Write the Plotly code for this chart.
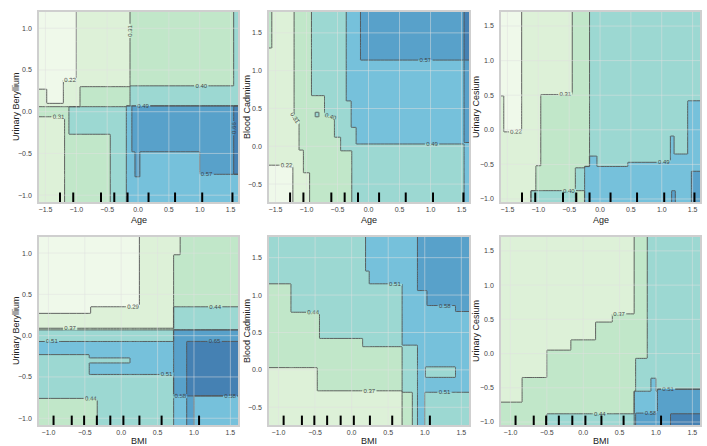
import plotly.graph_objects as go

# ---------------- data ----------------
AGE_RANGE = [-1.605, 1.62]
BMI_RANGE = [-1.13, 1.605]
BERYLLIUM_RANGE = [-1.082, 1.195]
CADMIUM_RANGE = [-0.737, 1.776]
CESIUM_RANGE = [-1.044, 1.703]

AGE_DECILES = [-1.265, -1.05, -0.60, -0.385, -0.17, 0.17, 0.60, 1.04, 1.53]
BMI_DECILES = [-0.93, -0.68, -0.51, -0.335, -0.15, 0.03, 0.25, 0.555, 1.07]

TOP_LEVELS = dict(start=0.224, end=0.6615, size=0.0875)
BOTTOM_LEVELS = dict(start=0.294, end=0.6515, size=0.0715)

# partial dependence regions: (x0, x1, y0, y1, value); later entries override earlier
AGE_BERYLLIUM_BASE = 0.36
AGE_BERYLLIUM = [
    (-9, -0.13, 0.30, 9, 0.27), (-9, -0.94, 0.06, 0.30, 0.27),
    (-9, -1.0, 0.38, 9, 0.18), (-1.48, -1.21, 0.10, 0.38, 0.18), (-9, -1.48, 0.27, 0.38, 0.18),
    (1.55, 9, 0.31, 9, 0.44), (-0.13, 9, 0.07, 0.31, 0.44),
    (-9, -1.19, -9, -0.06, 0.27),
    (-1.12, -0.45, -0.27, 0.06, 0.44), (-0.45, -0.19, -9, 0.06, 0.44),
    (-0.19, 9, -9, 0.07, 0.53),
    (-0.10, 9, -0.48, 0.07, 0.62), (1.0, 9, -0.75, -0.48, 0.62), (-0.05, 0.03, -0.78, -0.48, 0.62),
    (1.55, 9, -0.75, 0.07, 0.70),
]

AGE_CADMIUM_BASE = 0.44
AGE_CADMIUM = [
    (-9, -0.92, -9, 9, 0.36), (-0.92, -0.71, -9, 0.67, 0.36), (-0.71, -0.55, -9, 0.40, 0.36),
    (-0.55, -0.45, -9, 0.12, 0.36), (-0.45, -0.27, -9, -0.06, 0.36),
    (-9, -1.2, -9, 9, 0.27), (-1.2, -1.12, -9, 0.35, 0.27), (-1.12, -1.05, -9, -0.05, 0.27),
    (-1.05, -0.95, -9, -0.35, 0.27),
    (-9, -1.56, 1.30, 9, 0.36),
    (-9, -1.22, -9, -0.25, 0.18),
    (-0.86, -0.80, 0.39, 0.45, 0.44),
    (-0.36, 1.54, 0.6, 9, 0.53), (-0.28, 1.54, 0.25, 0.6, 0.53), (-0.2, 1.54, 0.03, 0.25, 0.53),
    (-0.13, 1.54, 1.14, 9, 0.62),
    (1.54, 9, 0.05, 1.14, 0.62), (1.54, 9, 1.14, 9, 0.70), (1.54, 9, -9, 0.05, 0.53),
]

AGE_CESIUM_BASE = 0.44
AGE_CESIUM = [
    (-9, -0.17, -9, 9, 0.36),
    (-9, -0.45, 0.51, 9, 0.27), (-9, -0.96, -0.52, 0.51, 0.27), (-9, -1.04, -0.88, -0.52, 0.27),
    (-9, -1.12, -9, -0.88, 0.27),
    (-1.56, -1.27, -0.03, 9, 0.18), (-9, -1.56, 0.49, 9, 0.18),
    (-1.12, -0.40, -9, -0.88, 0.44), (-0.40, -0.17, -0.88, -0.55, 0.44),
    (-0.25, 1.42, -9, -0.53, 0.53), (0.45, 1.14, -0.53, -0.47, 0.53), (1.2, 1.42, -0.53, -0.35, 0.53),
    (-0.17, -0.05, -0.53, -0.38, 0.53), (1.14, 1.2, -0.53, -0.09, 0.53),
    (1.42, 9, -9, 0.42, 0.53),
    (1.48, 9, -9, -0.6, 0.62), (1.16, 1.22, -9, -0.88, 0.62),
]

BMI_BERYLLIUM_BASE = 0.47
BMI_BERYLLIUM = [
    (-9, 0.72, 0.09, 9, 0.33),
    (-9, -0.42, 0.27, 9, 0.26), (-0.42, 0.25, 0.35, 9, 0.26),
    (0.72, 9, 0.35, 9, 0.40), (0.72, 0.81, 0.98, 9, 0.33),
    (-9, 0.72, 0.07, 0.09, 0.40),
    (-9, 0.72, -0.23, -0.07, 0.54), (-0.44, 0.72, -0.47, -0.23, 0.54),
    (-0.44, 0.12, -0.33, -0.27, 0.47),
    (0.72, 9, -0.73, 0.07, 0.62), (0.9, 9, -0.73, -0.07, 0.69),
    (0.72, 9, -9, -0.73, 0.54), (0.9, 1.0, -9, -0.73, 0.62),
    (-9, -0.33, -9, -0.76, 0.40),
]

BMI_CADMIUM_BASE = 0.47
BMI_CADMIUM = [
    (-9, -0.83, -9, 1.15, 0.40), (-0.83, -0.44, -9, 0.77, 0.40), (-0.44, 0.15, -9, 0.42, 0.40),
    (0.15, 0.69, -9, 0.31, 0.40),
    (-9, -0.47, -9, 0.03, 0.33), (-0.47, 0.69, -9, -0.28, 0.33),
    (0.69, 0.83, -9, -0.30, 0.40),
    (0.19, 0.9, 1.32, 9, 0.54), (0.24, 0.9, 1.15, 1.32, 0.54), (0.69, 0.9, 0.33, 1.15, 0.54),
    (0.9, 9, -0.30, 1.06, 0.54), (0.9, 1.0, -9, -0.30, 0.54),
    (1.01, 1.42, -0.10, 0.04, 0.47),
    (0.9, 9, 1.06, 9, 0.62), (1.03, 9, 0.86, 1.06, 0.62), (1.42, 9, 0.78, 0.86, 0.62),
]

BMI_CESIUM_BASE = 0.40
BMI_CESIUM = [
    (-9, 0.70, 0.58, 9, 0.33), (-9, 0.40, 0.46, 0.58, 0.33), (-9, 0.17, 0.20, 0.46, 0.33),
    (-9, -0.17, 0.05, 0.20, 0.33), (-9, -0.50, -0.35, 0.05, 0.33), (-9, -0.84, -0.71, -0.35, 0.33),
    (0.88, 9, -0.55, 9, 0.47), (0.72, 0.88, -0.55, -0.07, 0.47), (-0.5, 0.7, -9, -0.88, 0.47),
    (0.70, 9, -9, -0.55, 0.54), (0.93, 1.0, -0.55, -0.36, 0.54),
    (1.02, 9, -0.88, -0.52, 0.62), (0.72, 1.2, -9, -0.87, 0.62),
    (1.2, 9, -9, -0.88, 0.69),
]

GNBU_BANDS = ["rgb(234,247,228)", "rgb(210,237,203)", "rgb(173,223,183)", "rgb(123,204,196)",
              "rgb(73,173,208)", "rgb(33,130,185)", "rgb(8,87,154)"]

PANELS = [
    ("Age", "Urinary Beryllium", AGE_RANGE, BERYLLIUM_RANGE, AGE_BERYLLIUM_BASE, AGE_BERYLLIUM, AGE_DECILES, TOP_LEVELS),
    ("Age", "Blood Cadmium", AGE_RANGE, CADMIUM_RANGE, AGE_CADMIUM_BASE, AGE_CADMIUM, AGE_DECILES, TOP_LEVELS),
    ("Age", "Urinary Cesium", AGE_RANGE, CESIUM_RANGE, AGE_CESIUM_BASE, AGE_CESIUM, AGE_DECILES, TOP_LEVELS),
    ("BMI", "Urinary Beryllium", BMI_RANGE, BERYLLIUM_RANGE, BMI_BERYLLIUM_BASE, BMI_BERYLLIUM, BMI_DECILES, BOTTOM_LEVELS),
    ("BMI", "Blood Cadmium", BMI_RANGE, CADMIUM_RANGE, BMI_CADMIUM_BASE, BMI_CADMIUM, BMI_DECILES, BOTTOM_LEVELS),
    ("BMI", "Urinary Cesium", BMI_RANGE, CESIUM_RANGE, BMI_CESIUM_BASE, BMI_CESIUM, BMI_DECILES, BOTTOM_LEVELS),
]

# ---------------- layout (pixels of a 707x446 canvas) ----------------
W, H = 707, 446
X_DOMAINS = [(39, 238), (269, 469), (501, 700)]
Y_DOMAINS = [(12, 202), (237, 425)]
YTITLE_X = [16, 247, 476]
XTITLE_Y = [220, 440.5]
GRID_COLOR = "rgba(226,226,226,0.5)"


def nodes(lo, hi, edges, d=0.004):
    pts = {lo, hi}
    for e in edges:
        if lo + 2 * d < e < hi - 2 * d:
            pts.add(e - d)
            pts.add(e + d)
    return sorted(pts)


def build_grid(xr, yr, base, rects):
    xs = nodes(xr[0], xr[1], [r[0] for r in rects] + [r[1] for r in rects])
    ys = nodes(yr[0], yr[1], [r[2] for r in rects] + [r[3] for r in rects])
    z = []
    for y in ys:
        row = []
        for x in xs:
            v = base
            for x0, x1, y0, y1, val in rects:
                if x0 <= x <= x1 and y0 <= y <= y1:
                    v = val
            row.append(v)
        z.append(row)
    return xs, ys, z


def ticks_for(r):
    vals = []
    t = -1.5
    while t <= 1.5 + 1e-9:
        if r[0] <= t <= r[1]:
            vals.append(round(t, 1))
        t += 0.5
    return vals


colorscale = [[j / 6, c] for j, c in enumerate(GNBU_BANDS)]
FONT = "Liberation Sans, Arial, sans-serif"
TITLE_FONT = dict(size=9, color="#222222", family=FONT)

fig = go.Figure()
layout = dict(width=W, height=H, margin=dict(l=0, r=0, t=0, b=0),
              paper_bgcolor="white", plot_bgcolor="white", showlegend=False,
              font=dict(family=FONT))
annotations = []

for i, (xname, yname, xr, yr, base, rects, deciles, lv) in enumerate(PANELS):
    n = i + 1
    row, col = divmod(i, 3)
    xs, ys, z = build_grid(xr, yr, base, rects)
    xa = "x" if n == 1 else f"x{n}"
    ya = "y" if n == 1 else f"y{n}"
    fig.add_trace(go.Contour(
        x=xs, y=ys, z=z, xaxis=xa, yaxis=ya,
        colorscale=colorscale, showscale=False, opacity=0.75,
        autocontour=False,
        contours=dict(start=lv["start"], end=lv["end"], size=lv["size"], coloring="fill",
                      showlabels=True, labelformat=".2f",
                      labelfont=dict(size=6, color="black", family=FONT)),
        line=dict(color="#1a1a1a", width=0.9, smoothing=0),
        hoverinfo="skip",
    ))
    xt = ticks_for(xr)
    yt = ticks_for(yr)
    # grid drawn over the filled contours (as in the reference)
    for t in xt:
        fig.add_shape(type="line", xref=xa, yref=f"{ya} domain", x0=t, x1=t, y0=0, y1=1,
                      layer="above", line=dict(color=GRID_COLOR, width=1))
    for t in yt:
        fig.add_shape(type="line", xref=f"{xa} domain", yref=ya, x0=0, x1=1, y0=t, y1=t,
                      layer="above", line=dict(color=GRID_COLOR, width=1))
    for d in deciles:
        fig.add_shape(type="line", xref=xa, yref=f"{ya} domain", x0=d, x1=d, y0=0, y1=0.05,
                      layer="above", line=dict(color="black", width=2))
    x0p, x1p = X_DOMAINS[col]
    y0p, y1p = Y_DOMAINS[row]
    axis_common = dict(showgrid=False, zeroline=False,
                       showline=True, mirror=True, linecolor="#cfcfcf", linewidth=1.5,
                       ticks="", tickformat=".1f",
                       tickfont=dict(size=7, color="#444444", family=FONT))
    layout["xaxis" if n == 1 else f"xaxis{n}"] = dict(
        axis_common, domain=[x0p / W, x1p / W], anchor=ya, range=xr, tickvals=xt,
        ticklabelstandoff=0)
    layout["yaxis" if n == 1 else f"yaxis{n}"] = dict(
        axis_common, domain=[1 - y1p / H, 1 - y0p / H], anchor=xa, range=yr, tickvals=yt,
        ticklabelstandoff=4)
    annotations.append(dict(text=xname, xref="paper", yref="paper", showarrow=False,
                            x=(x0p + x1p) / 2 / W, y=1 - XTITLE_Y[row] / H,
                            xanchor="center", yanchor="middle", font=TITLE_FONT))
    annotations.append(dict(text=yname, xref="paper", yref="paper", showarrow=False,
                            x=YTITLE_X[col] / W, y=1 - (y0p + y1p) / 2 / H, textangle=-90,
                            xanchor="center", yanchor="middle", font=TITLE_FONT))

layout["annotations"] = annotations
fig.update_layout(**layout)
fig.write_html("out.html")
